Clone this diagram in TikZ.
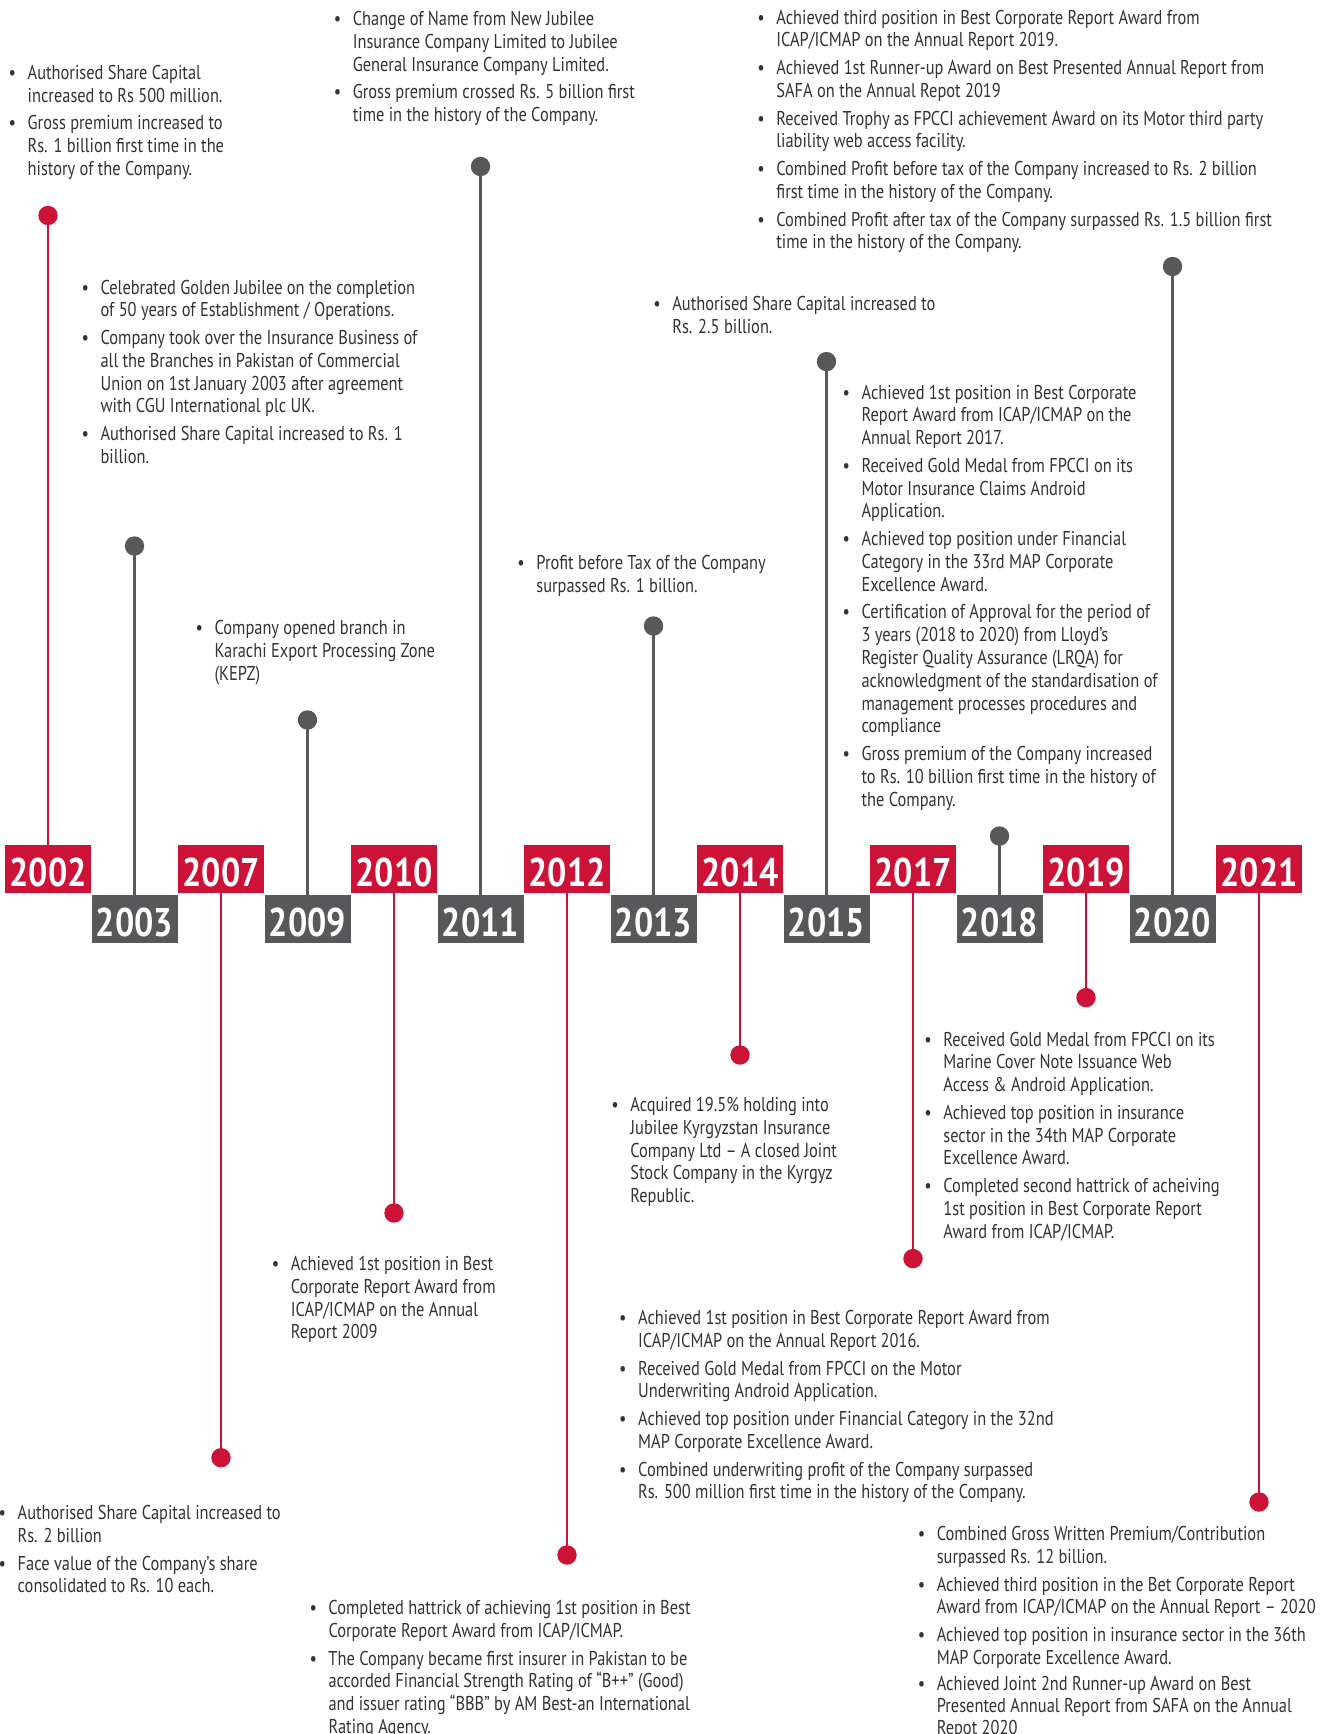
\documentclass[tikz,border=0pt]{standalone}
\usepackage{fontspec}
\setmainfont{PT Sans}[FakeStretch=0.82]
\newfontfamily\yearfont{PT Sans}[FakeStretch=0.85]
\definecolor{jred}{HTML}{CC1236}
\definecolor{jgray}{HTML}{58585A}
\definecolor{tgray}{HTML}{333333}
\newcommand\bx{\makebox[19pt][l]{\textbullet}}
\newcommand\bodyfont{\fontsize{20}{22.8}\selectfont}
\tikzset{
  txt/.style={anchor=base west, inner sep=0pt, outer sep=0pt, text=tgray, font=\bodyfont, yshift=-2.5pt},
  yearbox/.style={rectangle, minimum width=86pt, minimum height=48pt, inner sep=0pt, outer sep=0pt, text height=34pt, text depth=0pt, text=white, font=\yearfont\bfseries\fontsize{40}{40}\selectfont},
  redbox/.style={yearbox, fill=jred},
  graybox/.style={yearbox, fill=jgray},
  dotr/.style={circle, fill=jred, minimum size=19.4pt, inner sep=0pt},
  dotg/.style={circle, fill=jgray, minimum size=19.4pt, inner sep=0pt},
  stemr/.style={draw=jred, line width=2.4pt},
  stemg/.style={draw=jgray, line width=2.4pt}
}
\begin{document}
\begin{tikzpicture}[x=1pt, y=-1pt]
\path[use as bounding box, fill=white] (0,0) rectangle (1336,1734);

% year boxes
\node[redbox]  (y2002) at (48,869)    {2002};
\node[graybox] (y2003) at (134.5,919) {2003};
\node[redbox]  (y2007) at (221,869)   {2007};
\node[graybox] (y2009) at (307.5,919) {2009};
\node[redbox]  (y2010) at (394,869)   {2010};
\node[graybox] (y2011) at (480.5,919) {2011};
\node[redbox]  (y2012) at (567,869)   {2012};
\node[graybox] (y2013) at (653.5,919) {2013};
\node[redbox]  (y2014) at (740,869)   {2014};
\node[graybox] (y2015) at (826.5,919) {2015};
\node[redbox]  (y2017) at (913,869)   {2017};
\node[graybox] (y2018) at (999.5,919) {2018};
\node[redbox]  (y2019) at (1086,869)  {2019};
\node[graybox] (y2020) at (1172.5,919){2020};
\node[redbox]  (y2021) at (1259,869)  {2021};

% dots
\node[dotr] (d2002) at (48,215.5) {};
\node[dotg] (d2003) at (134.5,546) {};
\node[dotr] (d2007) at (221,1457.7) {};
\node[dotg] (d2009) at (307.5,720) {};
\node[dotr] (d2010) at (394,1213) {};
\node[dotg] (d2011) at (480.5,166.5) {};
\node[dotr] (d2012) at (567,1555) {};
\node[dotg] (d2013) at (653.5,626) {};
\node[dotr] (d2014) at (740,1055) {};
\node[dotg] (d2015) at (826.5,361.6) {};
\node[dotr] (d2017) at (913,1258.6) {};
\node[dotg] (d2018) at (999.5,836) {};
\node[dotr] (d2019) at (1086,997.6) {};
\node[dotg] (d2020) at (1172.5,266.5) {};
\node[dotr] (d2021) at (1259,1502) {};

% stems
\draw[stemr] (y2002.north) -- (d2002.center);
\draw[stemg] (y2003.north) -- (d2003.center);
\draw[stemr] (y2007.south) -- (d2007.center);
\draw[stemg] (y2009.north) -- (d2009.center);
\draw[stemr] (y2010.south) -- (d2010.center);
\draw[stemg] (y2011.north) -- (d2011.center);
\draw[stemr] (y2012.south) -- (d2012.center);
\draw[stemg] (y2013.north) -- (d2013.center);
\draw[stemr] (y2014.south) -- (d2014.center);
\draw[stemg] (y2015.north) -- (d2015.center);
\draw[stemr] (y2017.south) -- (d2017.center);
\draw[stemg] (y2018.north) -- (d2018.center);
\draw[stemr] (y2019.south) -- (d2019.center);
\draw[stemg] (y2020.north) -- (d2020.center);
\draw[stemr] (y2021.south) -- (d2021.center);

% texts
\node[txt] (t2002) at (8.7,77) {\begin{tabular}[t]{@{}l@{}l@{}}
\bx & Authorised Share Capital\\
 & increased to Rs 500 million.\\[4.9pt]
\bx & Gross premium increased to\\
 & Rs. 1 billion first time in the\\
 & history of the Company.
\end{tabular}};

\node[txt] (t2011) at (333.8,23) {\begin{tabular}[t]{@{}l@{}l@{}}
\bx & Change of Name from New Jubilee\\
 & Insurance Company Limited to Jubilee\\
 & General Insurance Company Limited.\\[4.9pt]
\bx & Gross premium crossed Rs. 5 billion first\\
 & time in the history of the Company.
\end{tabular}};

\node[txt] (t2003) at (81.6,291.5) {\begin{tabular}[t]{@{}l@{}l@{}}
\bx & Celebrated Golden Jubilee on the completion\\
 & of 50 years of Establishment / Operations.\\[4.9pt]
\bx & Company took over the Insurance Business of\\
 & all the Branches in Pakistan of Commercial\\
 & Union on 1st January 2003 after agreement\\
 & with CGU International plc UK.\\[4.9pt]
\bx & Authorised Share Capital increased to Rs. 1\\
 & billion.
\end{tabular}};

\node[txt] (t2009) at (195.6,632) {\begin{tabular}[t]{@{}l@{}l@{}}
\bx & Company opened branch in\\
 & Karachi Export Processing Zone\\
 & (KEPZ)
\end{tabular}};

\node[txt] (t2013) at (517.4,567) {\begin{tabular}[t]{@{}l@{}l@{}}
\bx & Profit before Tax of the Company\\
 & surpassed Rs. 1 billion.
\end{tabular}};

\node[txt] (t2015) at (653.4,308) {\begin{tabular}[t]{@{}l@{}l@{}}
\bx & Authorised Share Capital increased to\\
 & Rs. 2.5 billion.
\end{tabular}};

\node[txt] (t2020) at (757.4,21.6) {\begin{tabular}[t]{@{}l@{}l@{}}
\bx & Achieved third position in Best Corporate Report Award from\\
 & ICAP/ICMAP on the Annual Report 2019.\\[4.9pt]
\bx & Achieved 1st Runner-up Award on Best Presented Annual Report from\\
 & SAFA on the Annual Repot 2019\\[4.9pt]
\bx & Received Trophy as FPCCI achievement Award on its Motor third party\\
 & liability web access facility.\\[4.9pt]
\bx & Combined Profit before tax of the Company increased to Rs. 2 billion\\
 & first time in the history of the Company.\\[4.9pt]
\bx & Combined Profit after tax of the Company surpassed Rs. 1.5 billion first\\
 & time in the history of the Company.
\end{tabular}};

\node[txt] (t2018) at (842.6,396.5) {\begin{tabular}[t]{@{}l@{}l@{}}
\bx & Achieved 1st position in Best Corporate\\
 & Report Award from ICAP/ICMAP on the\\
 & Annual Report 2017.\\[4.9pt]
\bx & Received Gold Medal from FPCCI on its\\
 & Motor Insurance Claims Android\\
 & Application.\\[4.9pt]
\bx & Achieved top position under Financial\\
 & Category in the 33rd MAP Corporate\\
 & Excellence Award.\\[4.9pt]
\bx & Certification of Approval for the period of\\
 & 3 years (2018 to 2020) from Lloyd’s\\
 & Register Quality Assurance (LRQA) for\\
 & acknowledgment of the standardisation of\\
 & management processes procedures and\\
 & compliance\\[4.9pt]
\bx & Gross premium of the Company increased\\
 & to Rs. 10 billion first time in the history of\\
 & the Company.
\end{tabular}};

\node[txt] (t2019) at (924.4,1043.5) {\begin{tabular}[t]{@{}l@{}l@{}}
\bx & Received Gold Medal from FPCCI on its\\
 & Marine Cover Note Issuance Web\\
 & Access \& Android Application.\\[4.9pt]
\bx & Achieved top position in insurance\\
 & sector in the 34th MAP Corporate\\
 & Excellence Award.\\[4.9pt]
\bx & Completed second hattrick of acheiving\\
 & 1st position in Best Corporate Report\\
 & Award from ICAP/ICMAP.
\end{tabular}};

\node[txt] (t2014) at (611.4,1109) {\begin{tabular}[t]{@{}l@{}l@{}}
\bx & Acquired 19.5\% holding into\\
 & Jubilee Kyrgyzstan Insurance\\
 & Company Ltd – A closed Joint\\
 & Stock Company in the Kyrgyz\\
 & Republic.
\end{tabular}};

\node[txt] (t2010) at (271.9,1268) {\begin{tabular}[t]{@{}l@{}l@{}}
\bx & Achieved 1st position in Best\\
 & Corporate Report Award from\\
 & ICAP/ICMAP on the Annual\\
 & Report 2009
\end{tabular}};

\node[txt] (t2017) at (619.2,1322) {\begin{tabular}[t]{@{}l@{}l@{}}
\bx & Achieved 1st position in Best Corporate Report Award from\\
 & ICAP/ICMAP on the Annual Report 2016.\\[4.9pt]
\bx & Received Gold Medal from FPCCI on the Motor\\
 & Underwriting Android Application.\\[4.9pt]
\bx & Achieved top position under Financial Category in the 32nd\\
 & MAP Corporate Excellence Award.\\[4.9pt]
\bx & Combined underwriting profit of the Company surpassed\\
 & Rs. 500 million first time in the history of the Company.
\end{tabular}};

\node[txt] (t2007) at (-1.3,1517) {\begin{tabular}[t]{@{}l@{}l@{}}
\bx & Authorised Share Capital increased to\\
 & Rs. 2 billion\\[4.9pt]
\bx & Face value of the Company’s share\\
 & consolidated to Rs. 10 each.
\end{tabular}};

\node[txt] (t2012) at (309.5,1612) {\begin{tabular}[t]{@{}l@{}l@{}}
\bx & Completed hattrick of achieving 1st position in Best\\
 & Corporate Report Award from ICAP/ICMAP.\\[4.9pt]
\bx & The Company became first insurer in Pakistan to be\\
 & accorded Financial Strength Rating of “B++” (Good)\\
 & and issuer rating “BBB” by AM Best-an International\\
 & Rating Agency.
\end{tabular}};

\node[txt] (t2021) at (917.8,1538) {\begin{tabular}[t]{@{}l@{}l@{}}
\bx & Combined Gross Written Premium/Contribution\\
 & surpassed Rs. 12 billion.\\[4.9pt]
\bx & Achieved third position in the Bet Corporate Report\\
 & Award from ICAP/ICMAP on the Annual Report – 2020\\[4.9pt]
\bx & Achieved top position in insurance sector in the 36th\\
 & MAP Corporate Excellence Award.\\[3pt]
\bx & Achieved Joint 2nd Runner-up Award on Best\\
 & Presented Annual Report from SAFA on the Annual\\[-1pt]
 & Repot 2020
\end{tabular}};
\end{tikzpicture}
\end{document}
